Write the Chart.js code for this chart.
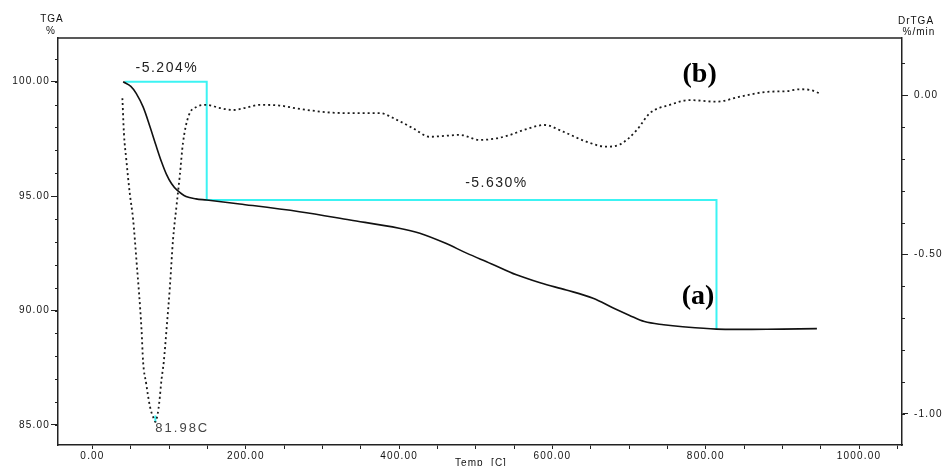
<!DOCTYPE html>
<html lang="en">
<head>
  <meta charset="UTF-8">
  <title>TGA / DrTGA</title>
  <style>
    body {
      margin: 0;
      background: #fff;
    }
    #wrap {
      width: 950px;
      height: 466px;
    }
  </style>
  <script src="https://cdn.jsdelivr.net/npm/chart.js"></script>
</head>
<body>

  <div id="wrap"><canvas id="tgaChart" width="950" height="466"></canvas></div>

  <script>
    // TGA curve (a): temperature [C] and weight [%]
    const tgaTemp = [40, 50, 57, 66, 75, 83, 90, 96.5, 103, 110, 122, 135, 149, 192, 270, 336, 400, 427, 460, 488, 520, 553, 585, 618, 653, 680, 700, 720, 745, 770, 814, 860, 900, 945];
    const tgaPct  = [100, 99.8, 99.49, 98.9, 98.03, 97.2, 96.5, 95.95, 95.55, 95.27, 94.98, 94.88, 94.83, 94.66, 94.32, 93.96, 93.6, 93.38, 92.95, 92.51, 92.05, 91.56, 91.2, 90.9, 90.54, 90.1, 89.8, 89.52, 89.38, 89.29, 89.19, 89.18, 89.19, 89.21];

    // DrTGA curve (b): temperature [C] and rate [%/min]
    const dtgTemp = [39, 41, 44, 48.7, 53, 57.4, 64, 66, 70, 75, 80, 82, 85, 87, 90, 93, 96.5, 101, 105, 109.5, 114, 118, 125, 136, 149, 165, 183, 200, 218, 244, 266, 290, 310, 340, 375, 397, 418, 440, 460, 479, 505, 527, 545, 562, 590, 614, 644, 670, 688, 710, 727, 753, 779, 814, 845, 880, 905, 923, 936, 949];
    const dtgRate = [-0.01, -0.12, -0.2, -0.31, -0.39, -0.52, -0.737, -0.836, -0.904, -0.977, -1.015, -1.025, -1.0, -0.966, -0.893, -0.836, -0.737, -0.6, -0.455, -0.35, -0.25, -0.151, -0.068, -0.037, -0.031, -0.04, -0.047, -0.04, -0.031, -0.033, -0.042, -0.05, -0.055, -0.057, -0.057, -0.078, -0.104, -0.131, -0.128, -0.125, -0.141, -0.136, -0.125, -0.11, -0.094, -0.115, -0.146, -0.162, -0.155, -0.11, -0.057, -0.031, -0.016, -0.021, -0.005, 0.01, 0.012, 0.018, 0.016, 0.005];

    // weight-loss steps (cyan)
    const stepTemp = [42, 149, 149, 814, 814];
    const stepPct  = [100, 100, 94.83, 94.83, 89.19];

    // peak marker
    const peakTemp = [81.98, 81.98];
    const peakRate = [-1.005, -1.025];

    // axis ticks
    const xTickVals = [0, 200, 400, 600, 800, 1000];
    const xTickLabels = ['0.00', '200.00', '400.00', '600.00', '800.00', '1000.00'];
    const xMinorVals = [0, 50, 100, 150, 200, 250, 300, 350, 400, 450, 500, 550, 600, 650, 700, 750, 800, 850, 900, 950, 1000, 1050];
    const leftTickVals = [85, 90, 95, 100];
    const leftTickLabels = ['85.00', '90.00', '95.00', '100.00'];
    const rightTickVals = [-1, -0.5, 0];
    const rightTickLabels = ['-1.00', '-0.50', '0.00'];

    // text labels placed in data units
    const notes = [
      { text: '-5.204%', x: 97, y: 100.6, axis: 'y', font: '14px "Liberation Sans"', color: '#222', align: 'center', spacing: '1.5px' },
      { text: '-5.630%', x: 527, y: 95.57, axis: 'y', font: '14px "Liberation Sans"', color: '#222', align: 'center', spacing: '1.5px' },
      { text: '81.98C', x: 81.98, y: 84.84, axis: 'y', font: '13px "Liberation Sans"', color: '#444', align: 'left', spacing: '2px' },
      { text: '(b)', x: 792, y: 0.063, axis: 'y2', font: 'bold 28px "Liberation Serif"', color: '#000', align: 'center', spacing: '0px' },
      { text: '(a)', x: 790, y: 90.59, axis: 'y', font: 'bold 28px "Liberation Serif"', color: '#000', align: 'center', spacing: '0px' }
    ];

    const toPoints = (xs, ys) => xs.map((v, i) => ({ x: v, y: ys[i] }));
    const tickFont = { family: 'Liberation Sans', size: 10 };

    const extras = {
      id: 'extras',
      beforeDraw(chart) {
        chart.ctx.letterSpacing = '1.2px';
      },
      afterDraw(chart) {
        const { ctx, chartArea: a, scales } = chart;
        ctx.save();
        ctx.strokeStyle = '#222';
        ctx.lineWidth = 1.5;
        ctx.beginPath();
        ctx.moveTo(a.left, a.top);
        ctx.lineTo(a.right, a.top);
        ctx.stroke();

        // minor ticks
        ctx.lineWidth = 1;
        ctx.beginPath();
        for (let v = 85; v <= 101; v++) {
          const py = Math.round(scales.y.getPixelForValue(v)) + 0.5;
          ctx.moveTo(a.left - 3, py);
          ctx.lineTo(a.left, py);
        }
        for (let k = -10; k <= 1; k++) {
          const py = Math.round(scales.y2.getPixelForValue(k / 10)) + 0.5;
          ctx.moveTo(a.right, py);
          ctx.lineTo(a.right + 3, py);
        }
        ctx.stroke();

        // axis titles
        ctx.fillStyle = '#111';
        ctx.font = '10px "Liberation Sans"';
        ctx.textAlign = 'center';
        ctx.textBaseline = 'middle';
        ctx.letterSpacing = '1px';
        ctx.fillText('TGA', 52, 19);
        ctx.fillText('%', 51, 31);
        ctx.fillText('DrTGA', 916, 21);
        ctx.fillText('%/min', 919, 32);
        ctx.fillText('Temp  [C]', 481, 463);

        notes.forEach(n => {
          ctx.font = n.font;
          ctx.fillStyle = n.color;
          ctx.textAlign = n.align;
          ctx.letterSpacing = n.spacing;
          ctx.fillText(n.text, scales.x.getPixelForValue(n.x), scales[n.axis].getPixelForValue(n.y));
        });
        ctx.restore();
      }
    };

    const ctx = document.getElementById('tgaChart').getContext('2d');
    const chart = new Chart(ctx, {
      type: 'line',
      data: {
        datasets: [
          {
            label: 'TGA',
            data: toPoints(tgaTemp, tgaPct),
            yAxisID: 'y',
            borderColor: '#111',
            borderWidth: 1.6,
            pointRadius: 0,
            tension: 0.35
          },
          {
            label: 'DrTGA',
            data: toPoints(dtgTemp, dtgRate),
            yAxisID: 'y2',
            borderColor: '#1a1a1a',
            borderWidth: 1.8,
            borderDash: [2, 3],
            pointRadius: 0,
            cubicInterpolationMode: 'monotone'
          },
          {
            label: 'steps',
            data: toPoints(stepTemp, stepPct),
            yAxisID: 'y',
            borderColor: '#3cf3f3',
            borderWidth: 2,
            pointRadius: 0,
            tension: 0
          },
          {
            label: 'peak',
            data: toPoints(peakTemp, peakRate),
            yAxisID: 'y2',
            borderColor: '#3cf3f3',
            borderWidth: 2,
            pointRadius: 0,
            tension: 0
          }
        ]
      },
      options: {
        responsive: false,
        animation: false,
        layout: { padding: { top: 38, left: 0, right: 0, bottom: 0 } },
        plugins: {
          legend: { display: false },
          tooltip: { enabled: false }
        },
        scales: {
          x: {
            type: 'linear',
            position: 'bottom',
            min: -45,
            max: 1056,
            afterBuildTicks: s => { s.ticks = xMinorVals.map(v => ({ value: v })); },
            afterFit: s => { s.height = 21; },
            ticks: {
              autoSkip: false,
              maxRotation: 0,
              padding: 1,
              color: '#111',
              font: tickFont,
              callback: v => {
                const i = xTickVals.indexOf(v);
                return i >= 0 ? xTickLabels[i] : '';
              }
            },
            grid: { drawOnChartArea: false, tickLength: 4, color: '#222' },
            border: { color: '#222', width: 1.5 }
          },
          y: {
            position: 'left',
            min: 84.126,
            max: 101.91,
            afterBuildTicks: s => { s.ticks = leftTickVals.map(v => ({ value: v })); },
            afterFit: s => { s.width = 58; },
            ticks: {
              padding: 1,
              color: '#111',
              font: tickFont,
              callback: v => leftTickLabels[leftTickVals.indexOf(v)]
            },
            grid: { drawOnChartArea: false, tickLength: 7, color: '#222' },
            border: { color: '#222', width: 1.5 }
          },
          y2: {
            position: 'right',
            min: -1.0972,
            max: 0.1787,
            afterBuildTicks: s => { s.ticks = rightTickVals.map(v => ({ value: v })); },
            afterFit: s => { s.width = 48; },
            ticks: {
              padding: 6,
              color: '#111',
              font: tickFont,
              callback: v => rightTickLabels[rightTickVals.indexOf(v)]
            },
            grid: { drawOnChartArea: false, tickLength: 6, color: '#222' },
            border: { color: '#222', width: 1.5 }
          }
        }
      },
      plugins: [extras]
    });
  </script>

</body>
</html>
